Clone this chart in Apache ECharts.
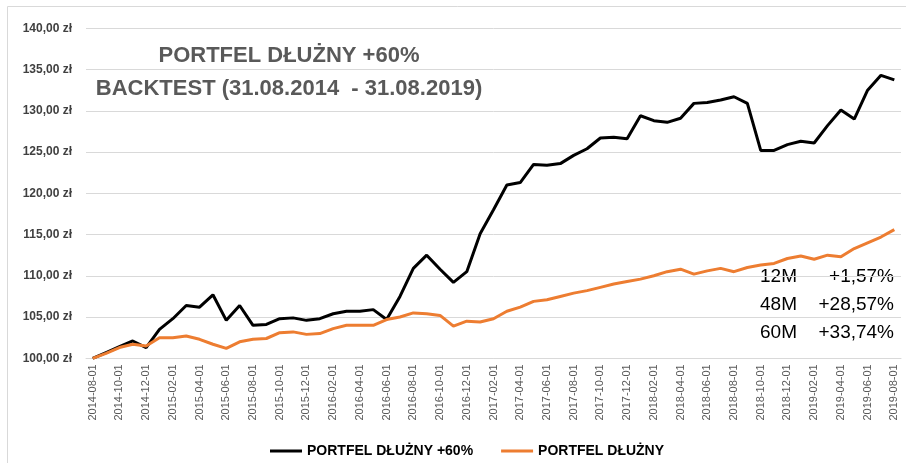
<!DOCTYPE html>
<html>
<head>
    <meta charset="UTF-8">
    <title>Portfel dłużny +60% - backtest</title>
    <script src="https://cdn.jsdelivr.net/npm/echarts@6/dist/echarts.min.js"></script>
    <style>
        html, body {
            margin: 0;
            padding: 0;
            background: #fff;
        }

        #chart {
            width: 906px;
            height: 463px;
        }
    </style>
</head>
<body>
    <div id="chart"></div>

    <script>
        const months = [
            '2014-08-01', '2014-09-01', '2014-10-01', '2014-11-01', '2014-12-01',
            '2015-01-01', '2015-02-01', '2015-03-01', '2015-04-01', '2015-05-01', '2015-06-01',
            '2015-07-01', '2015-08-01', '2015-09-01', '2015-10-01', '2015-11-01', '2015-12-01',
            '2016-01-01', '2016-02-01', '2016-03-01', '2016-04-01', '2016-05-01', '2016-06-01',
            '2016-07-01', '2016-08-01', '2016-09-01', '2016-10-01', '2016-11-01', '2016-12-01',
            '2017-01-01', '2017-02-01', '2017-03-01', '2017-04-01', '2017-05-01', '2017-06-01',
            '2017-07-01', '2017-08-01', '2017-09-01', '2017-10-01', '2017-11-01', '2017-12-01',
            '2018-01-01', '2018-02-01', '2018-03-01', '2018-04-01', '2018-05-01', '2018-06-01',
            '2018-07-01', '2018-08-01', '2018-09-01', '2018-10-01', '2018-11-01', '2018-12-01',
            '2019-01-01', '2019-02-01', '2019-03-01', '2019-04-01', '2019-05-01', '2019-06-01',
            '2019-07-01', '2019-08-01'
        ];

        // portfel dluzny +60%
        const portfel60 = [
            100.0, 100.7, 101.4, 102.1, 101.3, 103.5, 104.8, 106.4, 106.2, 107.7,
            104.6, 106.4, 104.0, 104.1, 104.8, 104.9, 104.6, 104.8, 105.4, 105.7,
            105.7, 105.9, 104.7, 107.5, 110.9, 112.5, 110.8, 109.2, 110.5, 115.1,
            118.0, 121.0, 121.3, 123.5, 123.4, 123.6, 124.6, 125.4, 126.7, 126.8,
            126.6, 129.4, 128.8, 128.6, 129.1, 130.9, 131.0, 131.3, 131.7, 130.9,
            125.2, 125.2, 125.9, 126.3, 126.1, 128.2, 130.1, 129.0, 132.5, 134.3, 133.74
        ];

        // portfel dluzny
        const portfel = [
            100.0, 100.6, 101.3, 101.7, 101.5, 102.5, 102.5, 102.7, 102.3, 101.7,
            101.2, 102.0, 102.3, 102.4, 103.1, 103.2, 102.9, 103.0, 103.6, 104.0,
            104.0, 104.0, 104.7, 105.0, 105.5, 105.4, 105.2, 103.9, 104.5, 104.4,
            104.8, 105.7, 106.2, 106.9, 107.1, 107.5, 107.9, 108.2, 108.6, 109.0,
            109.3, 109.6, 110.0, 110.5, 110.8, 110.2, 110.6, 110.9, 110.5, 111.0,
            111.3, 111.5, 112.1, 112.4, 112.0, 112.5, 112.3, 113.3, 114.0, 114.7, 115.6
        ];

        const seriesNames = ['PORTFEL DŁUŻNY +60%', 'PORTFEL DŁUŻNY'];
        const titleLines = ['PORTFEL DŁUŻNY +60%', 'BACKTEST (31.08.2014  - 31.08.2019)'];
        const periods = ['12M', '48M', '60M'];
        const returns = ['+1,57%', '+28,57%', '+33,74%'];

        const chart = echarts.init(document.getElementById('chart'));

        const font = "'Liberation Sans', Arial, sans-serif";

        const graphics = [
            {
                type: 'rect',
                shape: { x: 7.5, y: 6.5, width: 940, height: 500 },
                style: { fill: 'none', stroke: '#D9D9D9', lineWidth: 1 },
                silent: true
            }
        ];

        titleLines.forEach(function (t, i) {
            graphics.push({
                type: 'text',
                x: 289,
                y: 56 + i * 33,
                style: {
                    text: t,
                    fill: '#595959',
                    font: 'bold 22px ' + font,
                    textAlign: 'center',
                    textVerticalAlign: 'middle'
                }
            });
        });

        periods.forEach(function (p, i) {
            graphics.push({
                type: 'text',
                x: 760,
                y: 277 + i * 28,
                style: {
                    text: p,
                    fill: '#000',
                    font: '19px ' + font,
                    textAlign: 'left',
                    textVerticalAlign: 'middle'
                }
            });
            graphics.push({
                type: 'text',
                x: 894,
                y: 277 + i * 28,
                style: {
                    text: returns[i],
                    fill: '#000',
                    font: '19px ' + font,
                    textAlign: 'right',
                    textVerticalAlign: 'middle'
                }
            });
        });

        const option = {
            animation: false,
            textStyle: { fontFamily: font },
            grid: {
                left: 86,
                right: 5,
                top: 28.3,
                bottom: 104.7
            },
            legend: {
                data: seriesNames,
                left: 265,
                top: 439,
                itemWidth: 32,
                itemHeight: 3,
                itemGap: 28,
                icon: 'rect',
                textStyle: {
                    color: '#000',
                    fontWeight: 'bold',
                    fontSize: 14
                }
            },
            xAxis: {
                type: 'category',
                data: months,
                boundaryGap: true,
                axisLine: { lineStyle: { color: '#D9D9D9' } },
                axisTick: { show: false },
                axisLabel: {
                    interval: 1,
                    rotate: 90,
                    color: '#595959',
                    fontSize: 11,
                    margin: 6
                }
            },
            yAxis: {
                type: 'value',
                min: 100,
                max: 140,
                interval: 5,
                axisLine: { show: false },
                axisTick: { show: false },
                axisLabel: {
                    color: '#404040',
                    fontWeight: 'bold',
                    fontSize: 12,
                    margin: 14,
                    formatter: function (v) {
                        return v.toFixed(2).replace('.', ',') + ' zł';
                    }
                },
                splitLine: { lineStyle: { color: '#D9D9D9', width: 1 } }
            },
            series: [
                {
                    name: seriesNames[0],
                    type: 'line',
                    data: portfel60,
                    symbol: 'none',
                    color: '#000000',
                    lineStyle: { width: 3, color: '#000000' }
                },
                {
                    name: seriesNames[1],
                    type: 'line',
                    data: portfel,
                    symbol: 'none',
                    color: '#ED7D31',
                    lineStyle: { width: 3, color: '#ED7D31' }
                }
            ],
            graphic: graphics
        };

        chart.setOption(option);
    </script>
</body>
</html>
